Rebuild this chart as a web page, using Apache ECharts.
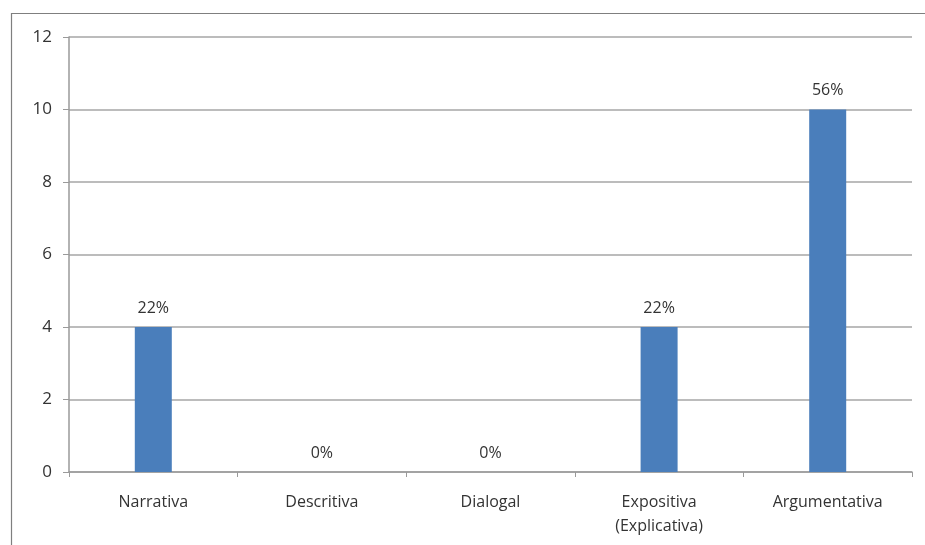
<!DOCTYPE html>
<html><head><meta charset="utf-8">
<script src="https://cdn.jsdelivr.net/npm/echarts@6/dist/echarts.min.js"></script>
<style>html,body{margin:0;padding:0;background:#fff}#c{width:925px;height:545px}</style>
</head><body><div id="c"></div>
<script>
var categories = ['Narrativa', 'Descritiva', 'Dialogal', 'Expositiva\n(Explicativa)', 'Argumentativa'];
var values = [4, 0, 0, 4, 10];
var pctLabels = ['22%', '0%', '0%', '22%', '56%'];
var yTicks = {min: 0, max: 12, interval: 2};

var chart = echarts.init(document.getElementById('c'), null, {renderer: 'canvas'});
var font = '"Open Sans", "Liberation Sans", sans-serif';
chart.setOption({
  animation: false,
  backgroundColor: '#fff',
  graphic: [{
    type: 'rect', left: 9, top: 11, z: -1,
    shape: {width: 930, height: 545},
    style: {fill: 'none', stroke: '#7f7f7f', lineWidth: 1.2}
  }],
  grid: {left: 69, right: 13, top: 37, bottom: 73},
  xAxis: {
    type: 'category', data: categories, boundaryGap: true,
    axisLine: {lineStyle: {color: '#9a9a9a', width: 1.5}},
    axisTick: {show: true, length: 5, alignWithLabel: false, lineStyle: {color: '#9a9a9a'}},
    axisLabel: {color: '#333', fontSize: 16, fontFamily: font, margin: 18, lineHeight: 24, interval: 0}
  },
  yAxis: {
    type: 'value', min: yTicks.min, max: yTicks.max, interval: yTicks.interval,
    axisLine: {show: true, lineStyle: {color: '#9a9a9a', width: 1.5}},
    axisTick: {show: true, length: 6, lineStyle: {color: '#9a9a9a'}},
    splitLine: {lineStyle: {color: '#a6a6a6', width: 1.5}},
    axisLabel: {color: '#333', fontSize: 17, fontFamily: font, margin: 17}
  },
  series: [{
    type: 'bar', data: values, barWidth: 37,
    itemStyle: {color: '#4a7ebb'},
    label: {
      show: true, position: 'top', distance: 11,
      color: '#333', fontSize: 16, fontFamily: font,
      formatter: function (p) { return pctLabels[p.dataIndex]; }
    }
  }]
});
</script></body></html>
